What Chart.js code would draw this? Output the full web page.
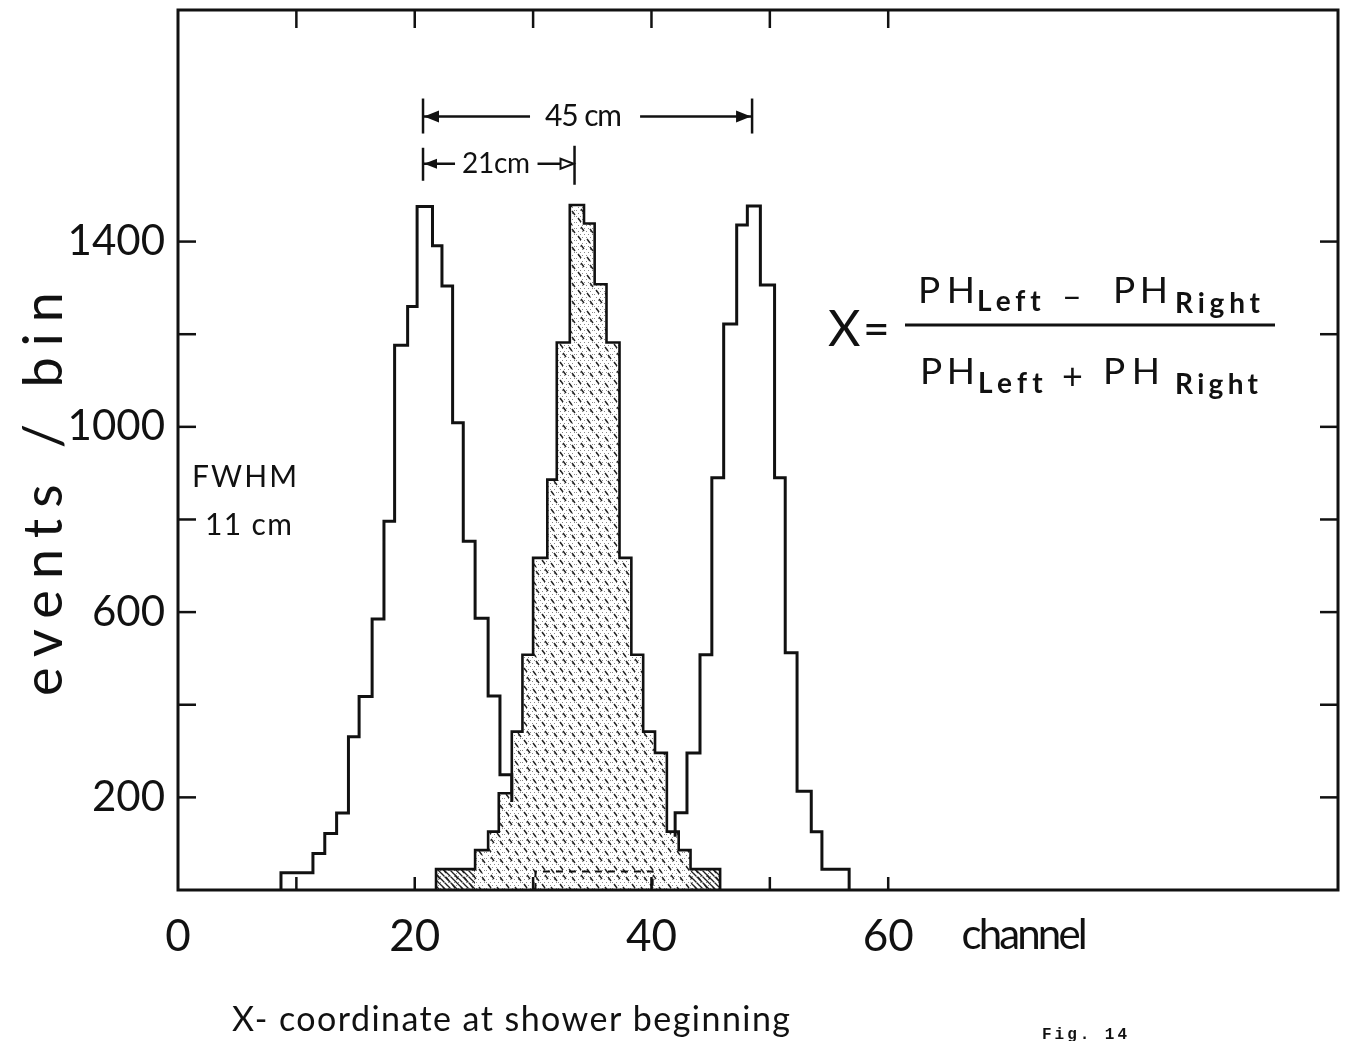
<!DOCTYPE html>
<html lang="en">
<head>
<meta charset="UTF-8">
<title>X-coordinate at shower beginning</title>
<script src="https://cdn.jsdelivr.net/npm/chart.js"></script>
<style>
  body { margin: 0; background: #fff; }
  canvas { display: block; }
</style>
</head>
<body>
<canvas id="histo" width="1347" height="1041"></canvas>
<script>
// bin edges in channels and events per bin
const leftEdges   = [8.7, 11.4, 12.4, 13.4, 14.4, 15.3, 16.4, 17.4, 18.3, 19.4, 20.2, 21.5, 22.3, 23.2, 24.1, 25.1, 26.2, 27.2, 28.2];
const leftCounts  = [37, 79, 122, 166, 331, 418, 585, 796, 1176, 1260, 1476, 1391, 1304, 1009, 753, 587, 419, 249];
const leftTail    = 190;

const centerEdges  = [21.8, 25.1, 26.2, 27.1, 28.2, 29.1, 30.0, 31.2, 32.0, 33.1, 34.3, 35.2, 36.2, 37.3, 38.3, 39.3, 40.3, 41.3, 42.3, 43.3, 45.8];
const centerCounts = [45, 86, 126, 209, 342, 508, 717, 886, 1182, 1479, 1439, 1308, 1182, 717, 508, 342, 296, 126, 86, 45];

const rightEdges  = [42.0, 43.0, 44.1, 45.1, 46.1, 47.2, 48.1, 49.2, 50.4, 51.3, 52.3, 53.5, 54.4, 56.7];
const rightCounts = [167, 296, 508, 890, 1222, 1436, 1477, 1306, 890, 512, 213, 126, 45];
const rightHead   = 115;

// dense hatched base pieces and the dashed inner outline
const hatchLeftEdges  = [21.8, 25.1];
const hatchRightEdges = [43.3, 45.8];
const hatchCounts     = [45];
const dashedEdges     = [30.2, 40.1];
const dashedCounts    = [40];

const xLabelTicks = [0, 20, 40, 60];
const xMinorTicks = [10, 20, 30, 40, 50, 60];
const yLabelTicks = [200, 600, 1000, 1400];
const yMinorTicks = [200, 400, 600, 800, 1000, 1200, 1400];

// histogram outline as stepped points
function steps(edges, counts, start, end) {
  const pts = [{ x: edges[0], y: start }];
  counts.forEach((c, i) => pts.push({ x: edges[i], y: c }));
  pts.push({ x: edges[edges.length - 1], y: end });
  return pts;
}

const canvas = document.getElementById('histo');
const ctx0 = canvas.getContext('2d');

function stipple() {
  const c = document.createElement('canvas');
  c.width = 18; c.height = 18;
  const g = c.getContext('2d');
  g.fillStyle = '#8a8a8a';
  for (let i = 0; i < 18; i += 3) {
    for (let j = (i % 2) * 2; j < 18; j += 4) g.fillRect(j, i, 1, 1);
  }
  g.strokeStyle = '#222';
  g.lineWidth = 1.4;
  [[2, 2], [11, 5], [5, 11], [14, 13]].forEach(([a, b]) => {
    g.beginPath(); g.moveTo(a, b); g.lineTo(a + 3, b + 4); g.stroke();
  });
  return ctx0.createPattern(c, 'repeat');
}

function hatch() {
  const c = document.createElement('canvas');
  c.width = 6; c.height = 6;
  const g = c.getContext('2d');
  g.strokeStyle = '#222';
  g.lineWidth = 1.3;
  g.beginPath();
  g.moveTo(-1, -1); g.lineTo(7, 7);
  g.moveTo(-1, 5); g.lineTo(1, 7);
  g.moveTo(5, -1); g.lineTo(7, 1);
  g.stroke();
  return ctx0.createPattern(c, 'repeat');
}

const FONT = 'Lato, "DejaVu Sans", sans-serif';

function fitText(ctx, text, x, y, width, size, opts = {}) {
  ctx.font = (opts.weight || '') + ' ' + size + 'px ' + (opts.family || FONT);
  ctx.letterSpacing = '0px';
  const w = ctx.measureText(text).width;
  const gap = text.length > 1 ? (width - w) / (text.length - 1) : 0;
  ctx.letterSpacing = Math.max(gap, -3) + 'px';
  ctx.textAlign = 'left';
  ctx.textBaseline = 'middle';
  ctx.fillText(text, x, y);
  ctx.letterSpacing = '0px';
}

function seg(ctx, x1, y1, x2, y2) {
  ctx.beginPath(); ctx.moveTo(x1, y1); ctx.lineTo(x2, y2); ctx.stroke();
}

const frameAndNotes = {
  id: 'frameAndNotes',
  afterDatasetsDraw(chart) {
    const { ctx, chartArea: a, scales: { x, y } } = chart;
    ctx.save();
    ctx.strokeStyle = '#111';
    ctx.fillStyle = '#111';
    ctx.lineWidth = 3;
    ctx.strokeRect(a.left, a.top, a.right - a.left, a.bottom - a.top);

    ctx.lineWidth = 2.5;
    xMinorTicks.forEach(v => {
      const px = x.getPixelForValue(v);
      seg(ctx, px, a.bottom, px, a.bottom - 13);
      seg(ctx, px, a.top, px, a.top + 18);
    });
    yMinorTicks.forEach(v => {
      const py = y.getPixelForValue(v);
      seg(ctx, a.left, py, a.left + 18, py);
      seg(ctx, a.right, py, a.right - 18, py);
    });

    // axis words
    const labelY = a.bottom + 45;
    fitText(ctx, 'channel', x.getPixelForValue(66.2), labelY, 126, 42);
    fitText(ctx, 'X- coordinate at shower beginning', 232, 1020, 558, 34);
    fitText(ctx, 'Fig. 14', 1042, 1035, 85, 16, { family: '"Liberation Mono", monospace', weight: 'bold' });

    ctx.save();
    ctx.translate(45, y.getPixelForValue(855));
    ctx.rotate(-Math.PI / 2);
    fitText(ctx, 'events / bin', -202, 0, 404, 54);
    ctx.restore();

    // FWHM note
    fitText(ctx, 'FWHM', 192, 477, 105, 30);
    fitText(ctx, '11 cm', 205, 525, 87, 30);

    // 45 cm and 21 cm markers
    const p1 = x.getPixelForValue(20.7), p2 = x.getPixelForValue(48.5), p3 = x.getPixelForValue(33.5);
    const yA = y.getPixelForValue(1670), yB = y.getPixelForValue(1568);
    ctx.lineWidth = 2.5;
    seg(ctx, p1, yA - 18, p1, yA + 17);
    seg(ctx, p2, yA - 18, p2, yA + 17);
    seg(ctx, p1, yA, p1 + 107, yA);
    seg(ctx, p2 - 112, yA, p2, yA);
    ctx.beginPath(); ctx.moveTo(p1 + 1, yA); ctx.lineTo(p1 + 16, yA - 6); ctx.lineTo(p1 + 16, yA + 6); ctx.closePath(); ctx.fill();
    ctx.beginPath(); ctx.moveTo(p2 - 1, yA); ctx.lineTo(p2 - 16, yA - 6); ctx.lineTo(p2 - 16, yA + 6); ctx.closePath(); ctx.fill();
    fitText(ctx, '45 cm', p1 + 122, yA, 77, 30);

    seg(ctx, p1, yB - 16, p1, yB + 17);
    seg(ctx, p3, yB - 18, p3, yB + 21);
    seg(ctx, p1, yB, p1 + 32, yB);
    seg(ctx, p3 - 37, yB, p3 - 14, yB);
    ctx.beginPath(); ctx.moveTo(p1 + 1, yB); ctx.lineTo(p1 + 14, yB - 5); ctx.lineTo(p1 + 14, yB + 5); ctx.closePath(); ctx.fill();
    ctx.lineWidth = 2;
    ctx.beginPath(); ctx.moveTo(p3 - 1, yB); ctx.lineTo(p3 - 14, yB - 5); ctx.lineTo(p3 - 14, yB + 5); ctx.closePath(); ctx.stroke();
    fitText(ctx, '21cm', p1 + 39, yB, 68, 28);

    // position formula
    fitText(ctx, 'X', 828, 330, 30, 50);
    fitText(ctx, '=', 863, 330, 22, 46);
    ctx.lineWidth = 3;
    seg(ctx, 905, 325, 1275, 325);
    fitText(ctx, 'PH', 918, 291, 57, 37);
    fitText(ctx, 'Left', 977, 302, 63, 28, { weight: 'bold' });
    fitText(ctx, '\u2013', 1062, 297, 18, 34);
    fitText(ctx, 'PH', 1113, 291, 55, 37);
    fitText(ctx, 'Right', 1175, 304, 85, 28, { weight: 'bold' });
    fitText(ctx, 'PH', 920, 372, 55, 37);
    fitText(ctx, 'Left', 978, 384, 64, 28, { weight: 'bold' });
    fitText(ctx, '+', 1062, 377, 23, 36);
    fitText(ctx, 'PH', 1103, 372, 57, 37);
    fitText(ctx, 'Right', 1175, 385, 83, 28, { weight: 'bold' });
    ctx.restore();
  }
};

const lineBase = { showLine: true, stepped: true, pointRadius: 0, borderColor: '#111', borderWidth: 3, fill: false };

function noPad(s) {
  s.paddingTop = 0; s.paddingBottom = 0; s.paddingLeft = 0; s.paddingRight = 0;
}

new Chart(canvas, {
  type: 'scatter',
  data: {
    datasets: [
      { ...lineBase, label: 'left', data: steps(leftEdges, leftCounts, 0, leftTail) },
      { ...lineBase, label: 'right', data: steps(rightEdges, rightCounts, rightHead, 0) },
      { ...lineBase, label: 'dashed', borderWidth: 2, borderDash: [7, 6], data: steps(dashedEdges, dashedCounts, 0, 0) },
      { ...lineBase, label: 'center', borderWidth: 2.6, fill: 'origin', backgroundColor: stipple(), data: steps(centerEdges, centerCounts, 0, 0) },
      { ...lineBase, label: 'hatch left', borderWidth: 0, fill: 'origin', backgroundColor: hatch(), data: steps(hatchLeftEdges, hatchCounts, 0, 0) },
      { ...lineBase, label: 'hatch right', borderWidth: 0, fill: 'origin', backgroundColor: hatch(), data: steps(hatchRightEdges, hatchCounts, 0, 0) }
    ]
  },
  options: {
    responsive: false,
    animation: false,
    layout: { padding: { top: 10, right: 9, left: 0, bottom: 0 } },
    plugins: { legend: { display: false }, tooltip: { enabled: false } },
    scales: {
      x: {
        type: 'linear', min: 0, max: 98,
        grid: { display: false, drawTicks: false },
        border: { display: false },
        afterFit: s => { s.height = 151; noPad(s); },
        afterBuildTicks: s => { s.ticks = xLabelTicks.map(v => ({ value: v })); },
        ticks: { font: { family: FONT, size: 44 }, color: '#111', padding: 20, maxRotation: 0, autoSkip: false, callback: v => v }
      },
      y: {
        min: 0, max: 1900,
        grid: { display: false, drawTicks: false },
        border: { display: false },
        afterFit: s => { s.width = 178; noPad(s); },
        afterBuildTicks: s => { s.ticks = yLabelTicks.map(v => ({ value: v })); },
        ticks: { font: { family: FONT, size: 42 }, color: '#111', padding: 13, autoSkip: false, callback: v => v }
      }
    }
  },
  plugins: [frameAndNotes]
});
</script>
</body>
</html>
